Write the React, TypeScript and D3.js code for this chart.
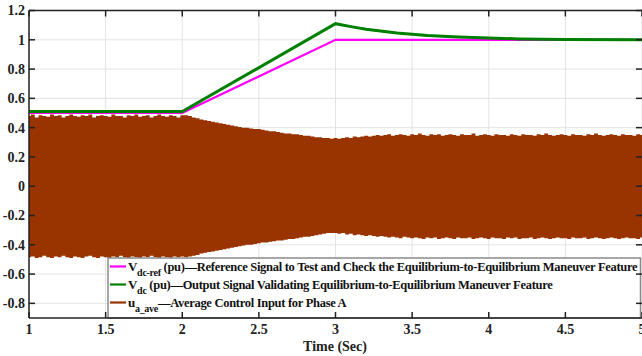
import React from "react";
import * as d3 from "d3";

// Reference DC voltage command (pu)
const refTime = [1, 2, 3, 5];
const refValues = [0.5, 0.5, 1.0, 1.0];

// Measured DC voltage (pu)
const dcTime = [1, 2, 3, 3.1, 3.2, 3.4, 3.6, 3.8, 4.0, 4.2, 4.5, 5];
const dcValues = [0.51, 0.51, 1.11, 1.09, 1.072, 1.046, 1.03, 1.019, 1.012, 1.006, 1.002, 1.0];

// Envelope of the average control input for phase A, sampled every 0.025 s from t = 1 s
const uStart = 1;
const uStep = 0.025;
const uUpper = [
  0.48, 0.49, 0.47, 0.485, 0.48, 0.475, 0.49, 0.48, 0.485, 0.47,
  0.48, 0.49, 0.48, 0.475, 0.485, 0.48, 0.49, 0.47, 0.48, 0.485,
  0.48, 0.475, 0.49, 0.48, 0.48, 0.47, 0.485, 0.48, 0.49, 0.475,
  0.48, 0.485, 0.47, 0.48, 0.49, 0.48, 0.475, 0.485, 0.48, 0.47,
  0.485,
  0.485, 0.48, 0.47, 0.465, 0.455, 0.45, 0.445, 0.44, 0.435, 0.43,
  0.425, 0.42, 0.415, 0.41, 0.405, 0.4, 0.4, 0.395, 0.39, 0.39,
  0.385, 0.38, 0.375, 0.375, 0.37, 0.365, 0.36, 0.36, 0.355, 0.355,
  0.35, 0.345, 0.345, 0.34, 0.335, 0.335, 0.33, 0.33, 0.325, 0.33,
  0.325, 0.33, 0.335, 0.33, 0.34, 0.335, 0.34, 0.345, 0.34, 0.345,
  0.35, 0.345, 0.35, 0.355, 0.345, 0.35, 0.355, 0.35, 0.345, 0.355,
  0.35, 0.36, 0.35, 0.345, 0.355, 0.35, 0.355, 0.345, 0.35, 0.355,
  0.35, 0.345, 0.355, 0.35, 0.35, 0.36, 0.345, 0.35, 0.355, 0.35,
  0.345, 0.355, 0.35, 0.35, 0.345, 0.355, 0.35, 0.345, 0.355, 0.35,
  0.35, 0.345, 0.355, 0.35, 0.36, 0.35, 0.345, 0.35, 0.355, 0.35,
  0.345, 0.355, 0.35, 0.35, 0.345, 0.355, 0.35, 0.36, 0.35, 0.345,
  0.35, 0.355, 0.35, 0.345, 0.355, 0.35, 0.35, 0.345, 0.355, 0.35,
];
const uLower = [
  -0.485, -0.48, -0.49, -0.485, -0.475, -0.485, -0.49, -0.48, -0.485, -0.475,
  -0.485, -0.49, -0.48, -0.485, -0.49, -0.48, -0.475, -0.485, -0.49, -0.48,
  -0.485, -0.49, -0.48, -0.485, -0.475, -0.485, -0.49, -0.48, -0.485, -0.49,
  -0.48, -0.485, -0.475, -0.485, -0.49, -0.48, -0.485, -0.49, -0.48, -0.485,
  -0.48,
  -0.485, -0.48, -0.475, -0.47, -0.46, -0.455, -0.45, -0.445, -0.44, -0.435,
  -0.43, -0.425, -0.42, -0.415, -0.41, -0.405, -0.4, -0.4, -0.395, -0.39,
  -0.385, -0.385, -0.38, -0.375, -0.37, -0.37, -0.365, -0.36, -0.36, -0.355,
  -0.35, -0.345, -0.345, -0.34, -0.335, -0.33, -0.325, -0.32, -0.32, -0.32,
  -0.325, -0.32, -0.33, -0.325, -0.335, -0.33, -0.335, -0.34, -0.335, -0.34,
  -0.345, -0.34, -0.345, -0.35, -0.345, -0.35, -0.355, -0.345, -0.35, -0.355,
  -0.35, -0.355, -0.36, -0.35, -0.355, -0.35, -0.36, -0.355, -0.35, -0.355,
  -0.36, -0.35, -0.355, -0.355, -0.35, -0.36, -0.355, -0.35, -0.355, -0.36,
  -0.35, -0.355, -0.355, -0.36, -0.35, -0.355, -0.35, -0.36, -0.355, -0.355,
  -0.35, -0.36, -0.355, -0.35, -0.355, -0.36, -0.355, -0.35, -0.355, -0.355,
  -0.36, -0.35, -0.355, -0.355, -0.35, -0.36, -0.355, -0.35, -0.355, -0.36,
  -0.355, -0.35, -0.355, -0.36, -0.355, -0.35, -0.355, -0.355, -0.36, -0.35,
];

const xTicks = [1, 1.5, 2, 2.5, 3, 3.5, 4, 4.5, 5];
const yTicks = [-0.8, -0.6, -0.4, -0.2, 0, 0.2, 0.4, 0.6, 0.8, 1, 1.2];

const W = 642;
const H = 356;
const M = { left: 29, right: 642, top: 10.5, bottom: 318 };

const COLORS = { ref: "#ff00ff", dc: "#008000", u: "#993300" };
const FONT = "'Liberation Serif', 'Times New Roman', serif";

export default function App() {
  const x = d3.scaleLinear().domain([1, 5]).range([M.left, M.right]);
  const y = d3.scaleLinear().domain([-0.9, 1.2]).range([M.bottom, M.top]);

  const uPoints = uUpper.map((v, i) => ({ t: uStart + i * uStep, hi: v, lo: uLower[i] }));
  const band = d3
    .area<{ t: number; hi: number; lo: number }>()
    .x((d) => x(d.t))
    .y0((d) => y(d.lo))
    .y1((d) => y(d.hi))
    .curve(d3.curveStep)(uPoints) as string;

  const line = d3
    .line<[number, number]>()
    .x((d) => x(d[0]))
    .y((d) => y(d[1]));
  const refPath = line(refTime.map((t, i) => [t, refValues[i]]) as [number, number][]) as string;
  const dcPath = line(dcTime.map((t, i) => [t, dcValues[i]]) as [number, number][]) as string;

  const fmt = (v: number) => (Math.abs(v) < 1e-9 ? "0" : String(+v.toFixed(1)));

  const legendX = 108;
  const legendY = 258;
  const rows = [
    { color: COLORS.ref, main: "V", sub: "dc-ref", rest: " (pu)\u2014Reference Signal to Test and Check the Equilibrium-to-Equilibrium Maneuver Feature", y: 271 },
    { color: COLORS.dc, main: "V", sub: "dc", rest: "  (pu)\u2014Output Signal Validating Equilibrium-to-Equilibrium Maneuver Feature", y: 289 },
    { color: COLORS.u, main: "u", sub: "a_ave", rest: "\u2014Average Control Input for Phase A", y: 307 },
  ];

  return (
    <svg
      width={W}
      height={H}
      style={{ position: "absolute", left: 0, top: 0, background: "#fff" }}
      fontFamily={FONT}
      fontWeight="bold"
    >
      <defs>
        <clipPath id="plot-clip">
          <rect x={M.left} y={M.top} width={M.right - M.left} height={M.bottom - M.top} />
        </clipPath>
      </defs>
      <rect x={0} y={0} width={W} height={H} fill="#fff" />

      {/* grid */}
      <g stroke="#e3e3e3" strokeWidth={1}>
        {xTicks.map((t) => (
          <line key={"gx" + t} x1={x(t)} x2={x(t)} y1={M.top} y2={M.bottom} />
        ))}
        {yTicks.map((t) => (
          <line key={"gy" + t} x1={M.left} x2={M.right} y1={y(t)} y2={y(t)} />
        ))}
      </g>

      {/* series */}
      <g clipPath="url(#plot-clip)">
        <path d={band} fill={COLORS.u} stroke="none" />
        <path d={refPath} fill="none" stroke={COLORS.ref} strokeWidth={2.2} />
        <path d={dcPath} fill="none" stroke={COLORS.dc} strokeWidth={3} />
      </g>

      {/* legend */}
      <g>
        <rect
          x={legendX}
          y={legendY}
          width={M.right - legendX - 1.5}
          height={M.bottom - legendY}
          fill="#fff"
          stroke="#8a8a8a"
          strokeWidth={1.5}
        />
        {rows.map((r) => (
          <g key={r.sub}>
            <line x1={110} x2={126} y1={r.y - 4.5} y2={r.y - 4.5} stroke={r.color} strokeWidth={2.2} />
            <text x={128} y={r.y} fontSize={13} fill="#111" letterSpacing={-0.29}>
              {r.main}
              <tspan fontSize={10} dy={5}>{r.sub}</tspan>
              <tspan fontSize={12.5} dy={-5}>{r.rest}</tspan>
            </text>
          </g>
        ))}
      </g>

      {/* axes frame */}
      <g stroke="#222" strokeWidth={1.5} fill="none">
        <line x1={M.left} x2={M.left} y1={M.top} y2={M.bottom} />
        <line x1={M.left} x2={M.right} y1={M.bottom} y2={M.bottom} />
        <line x1={M.left} x2={M.right} y1={M.top} y2={M.top} />
        {xTicks.map((t) => (
          <g key={"tx" + t}>
            <line x1={x(t)} x2={x(t)} y1={M.bottom} y2={M.bottom - 6} />
            <line x1={x(t)} x2={x(t)} y1={M.top} y2={M.top + 6} />
          </g>
        ))}
        {yTicks.map((t) => (
          <g key={"ty" + t}>
            <line x1={M.left} x2={M.left + 6} y1={y(t)} y2={y(t)} />
            <line x1={M.right} x2={M.right - 6} y1={y(t)} y2={y(t)} />
          </g>
        ))}
      </g>

      {/* tick labels */}
      <g fontSize={14} fill="#222">
        {yTicks.map((t) => (
          <text key={"ly" + t} x={25} y={y(t)} dy="0.35em" textAnchor="end">
            {fmt(t)}
          </text>
        ))}
        {xTicks.map((t) => (
          <text key={"lx" + t} x={x(t)} y={334} textAnchor="middle">
            {fmt(t)}
          </text>
        ))}
      </g>
      <text x={335} y={351} fontSize={14} textAnchor="middle" fill="#222">
        Time (Sec)
      </text>
    </svg>
  );
}
